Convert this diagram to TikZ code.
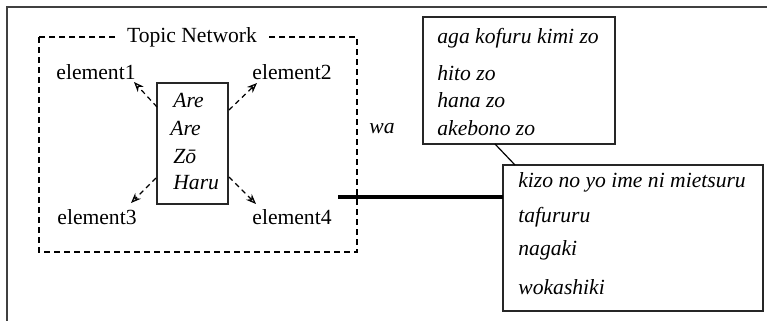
\documentclass[tikz,border=0pt]{standalone}
\usepackage{fontspec}
\setmainfont{Liberation Serif}
\usetikzlibrary{arrows.meta}
\begin{document}
\begin{tikzpicture}[x=0.5pt,y=-0.5pt,
  every node/.style={font=\fontsize{10.8}{13}\selectfont},
  boxline/.style={draw=black!85,line width=0.8pt},
  lbl/.style={inner sep=0pt,anchor=west},
  itl/.style={inner sep=0pt,anchor=west,font=\fontsize{10.8}{13}\selectfont\itshape},
  darr/.style={dash pattern=on 2.5pt off 2pt,line width=0.6pt,-{Stealth[open,length=5pt,width=4pt]}},
  dbox/.style={draw,dash pattern=on 3pt off 2pt,line width=0.7pt}]
\useasboundingbox (0,0) rectangle (767,321);
% outer frame (only top and left visible)
\draw[line width=1pt,black!75] (767,7) -- (7,7) -- (7,321);
% dashed topic network box
\draw[dbox] (39,37) rectangle (357,252);
\node[fill=white,inner xsep=4.5pt,inner ysep=1pt] (title) at (192,37) {Topic Network};
% central box
\draw[boxline] (157,83) rectangle (228,204);
\node[itl] (are1) at (173,100) {Are};
\node[itl] (are2) at (170,128) {Are};
\node[itl] (zo) at (173,157) {Zō};
\node[itl] (haru) at (173,183) {Haru};
% elements
\node[inner sep=0pt] (e1) at (96,72) {element1};
\node[inner sep=0pt] (e2) at (292,72) {element2};
\node[inner sep=0pt] (e3) at (97,217) {element3};
\node[inner sep=0pt] (e4) at (292,217) {element4};
\coordinate (s1) at (157,107); \coordinate (t1) at (134,82);
\coordinate (s2) at (229,110); \coordinate (t2) at (257,83);
\coordinate (s3) at (156,178); \coordinate (t3) at (131,203);
\coordinate (s4) at (229,177); \coordinate (t4) at (256,204);
\draw[darr] (s1) -- (t1);
\draw[darr] (s2) -- (t2);
\draw[darr] (s3) -- (t3);
\draw[darr] (s4) -- (t4);
% wa
\node[itl,anchor=center] (wa) at (382,129) {wa};
% top right box
\draw[boxline] (423,17) rectangle (615,144);
\node[itl] (a1) at (437,38) {aga kofuru kimi zo};
\node[itl] (a2) at (437,73) {hito zo};
\node[itl] (a3) at (437,100) {hana zo};
\node[itl] (a4) at (437,128) {akebono zo};
% bottom right box
\draw[boxline] (503,165) rectangle (763,311);
\node[itl] (b1) at (518,182) {kizo no yo ime ni mietsuru};
\node[itl] (b2) at (518,217) {tafururu};
\node[itl] (b3) at (518,250) {nagaki};
\node[itl] (b4) at (518,287) {wokashiki};
% connectors
\coordinate (c1) at (495,144); \coordinate (c2) at (515,165);
\draw[line width=0.6pt] (c1) -- (c2);
\coordinate (l1) at (338,197); \coordinate (l2) at (503,197);
\draw[line width=1.6pt] (l1) -- (l2);
\end{tikzpicture}
\end{document}
